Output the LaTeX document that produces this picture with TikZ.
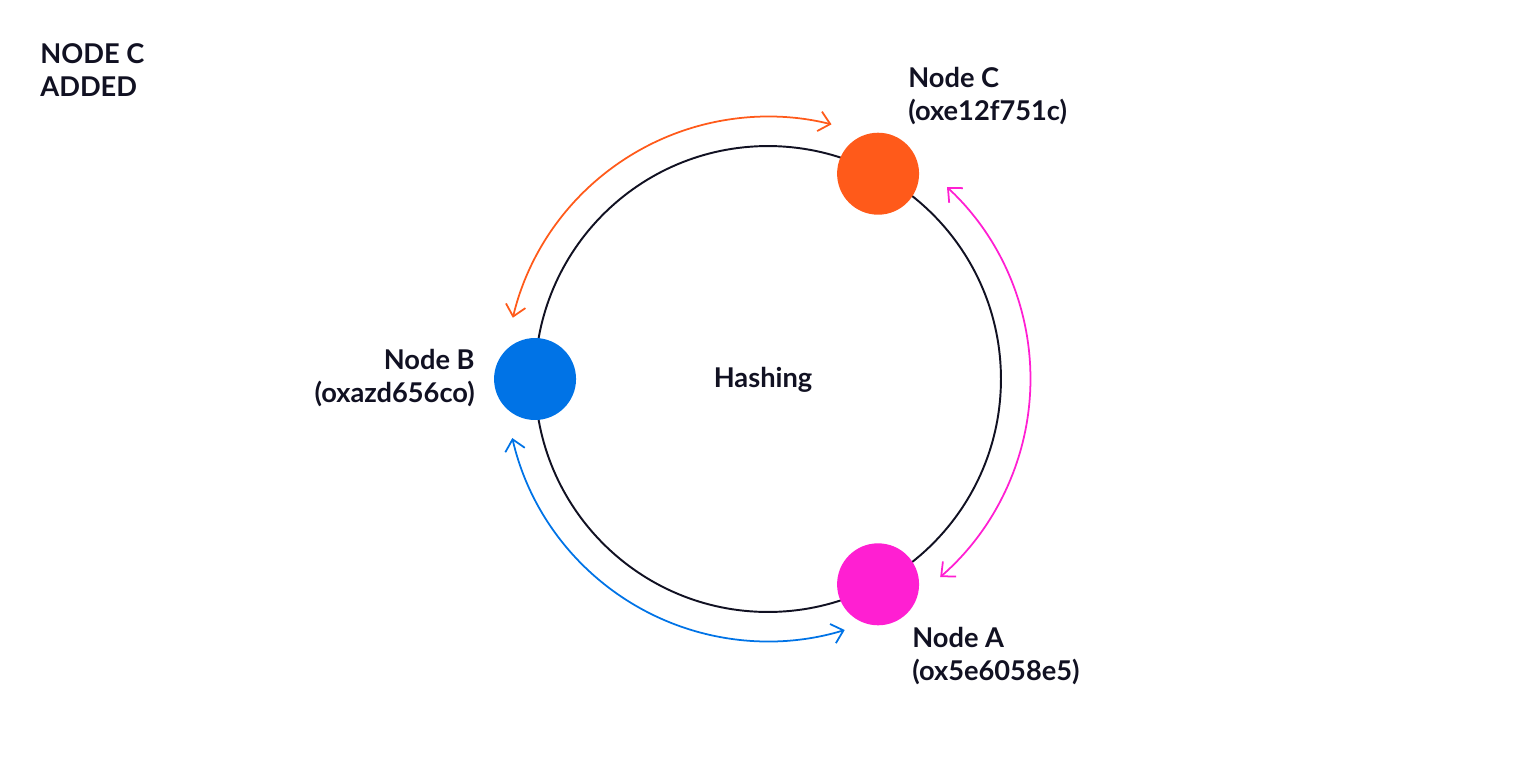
\documentclass[tikz,border=0pt]{standalone}
\usepackage{fontspec}
\setmainfont{Lato}
\usetikzlibrary{arrows.meta,calc}
\definecolor{nodeorange}{HTML}{FF5A1A}
\definecolor{nodepink}{HTML}{FF1FD2}
\definecolor{nodeblue}{HTML}{0073E6}
\definecolor{inkdark}{HTML}{111122}
\tikzset{
  ringnode/.style={circle,minimum size=1.64cm,inner sep=0pt},
  label text/.style={font=\fontsize{15.5}{19}\selectfont\bfseries,text=inkdark,align=left,inner sep=0pt},
  hop/.style={line width=1pt,{Straight Barb[length=2.2mm,width=4mm]}-{Straight Barb[length=2.2mm,width=4mm]}}
}
\begin{document}
\begin{tikzpicture}[x=0.02cm,y=-0.02cm]
  \useasboundingbox (0,0) rectangle (1520,758);

  % the ring
  \coordinate (O) at (768,379);
  \draw[line width=1.1pt,inkdark] (O) circle[radius=4.66cm];

  % nodes on the ring
  \node[ringnode,fill=nodeorange] (C) at ($(O)+(61.8:4.66cm)$) {};
  \node[ringnode,fill=nodeblue] (B) at ($(O)+(180:4.66cm)$) {};
  \node[ringnode,fill=nodepink] (A) at ($(O)+(-61.8:4.66cm)$) {};

  % hops around the ring
  \draw[hop,nodeorange] ($(O)+(166.5:5.25cm)$) arc[start angle=166.5,end angle=76,radius=5.25cm];
  \draw[hop,nodepink] ($(O)+(47:5.25cm)$) arc[start angle=47,end angle=-49,radius=5.25cm];
  \draw[hop,nodeblue] ($(O)+(193:5.25cm)$) arc[start angle=193,end angle=287,radius=5.25cm];

  % labels
  \node[label text,anchor=north west] (title) at (40,43) {NODE C\\ADDED};
  \node[label text,anchor=north west] (labC) at (908,67) {Node C\\(oxe12f751c)};
  \node[label text,anchor=north east,align=right] (labB) at (475,349) {Node B\\(oxazd656co)};
  \node[label text,anchor=north west] (labA) at (912,627) {Node A\\(ox5e6058e5)};
  \node[label text] (hash) at (763,380) {Hashing};
\end{tikzpicture}
\end{document}
